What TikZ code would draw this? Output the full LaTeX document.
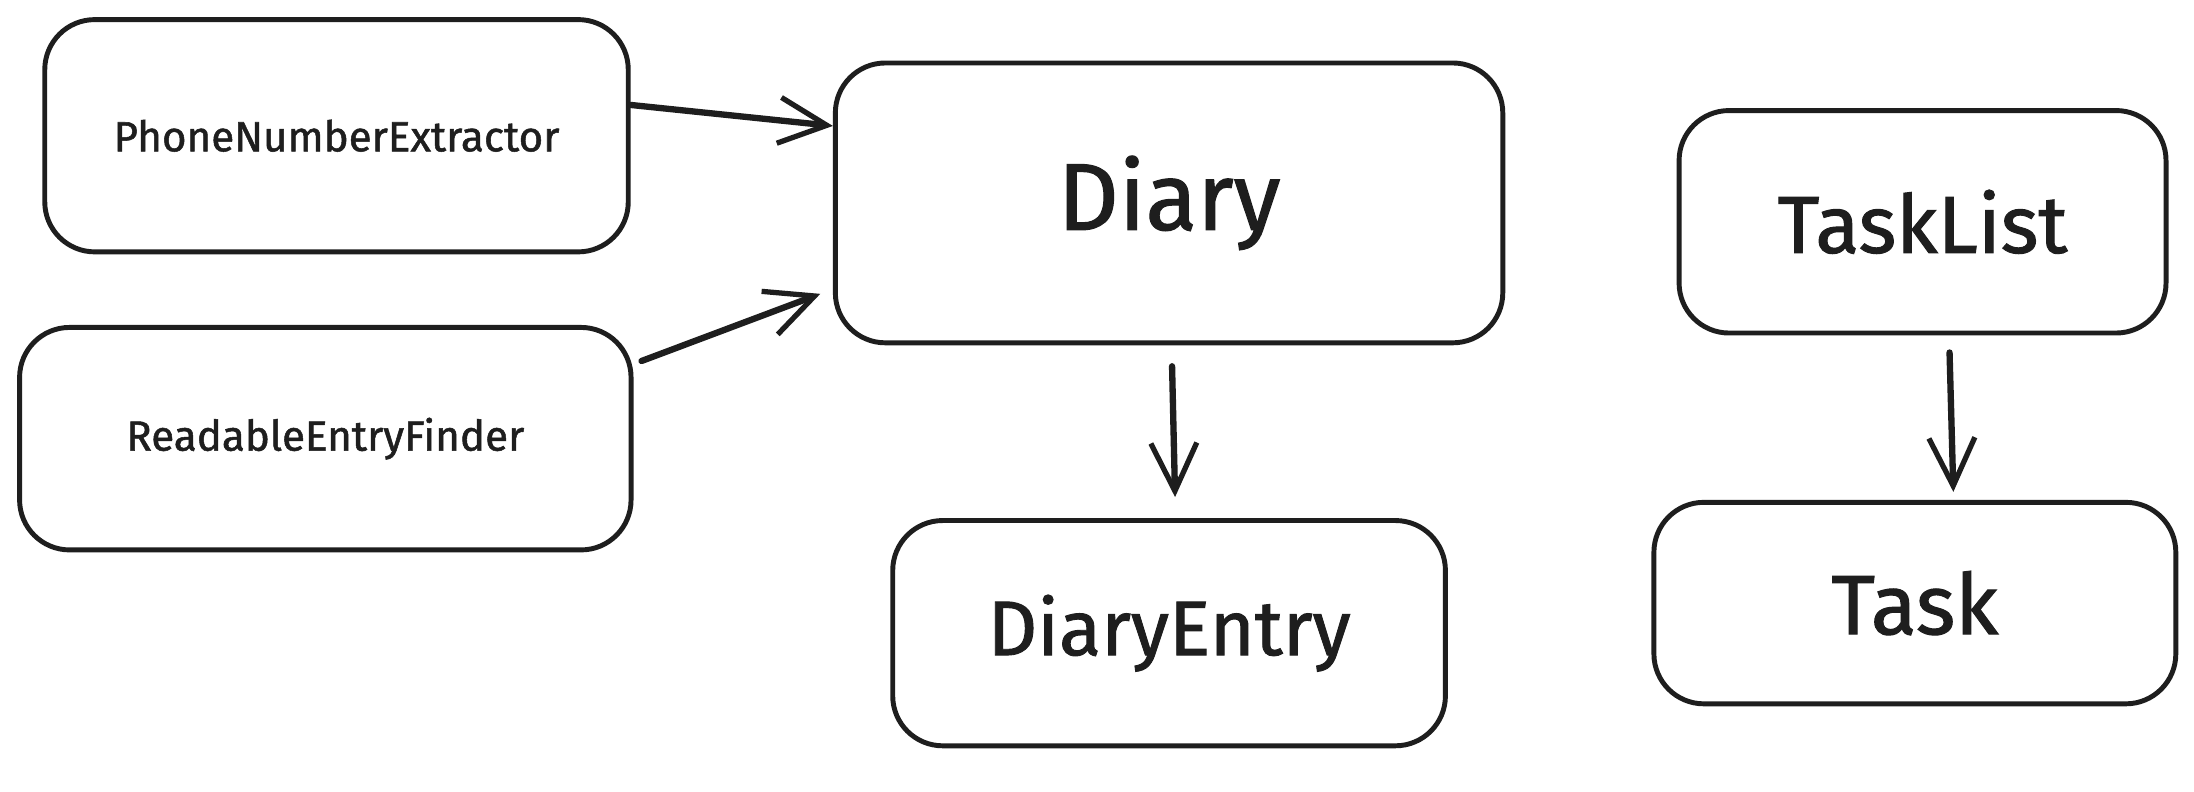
\documentclass[tikz,border=0pt]{standalone}
\usepackage{fontspec}
\setmainfont{Fira Sans}
\newfontfamily\handfont{Fira Sans}[FakeBold=1.2]
\usetikzlibrary{arrows.meta}
\definecolor{ink}{HTML}{1E1E1E}
\tikzset{
	classbox/.style={draw=ink, line width=1.4pt, rounded corners=0.5cm, text=ink, inner sep=0pt},
	link/.style={draw=ink, line width=1.8pt, line cap=round, -{Straight Barb[length=0.48cm, width=0.46cm, line width=1.5pt]}}
}

\begin{document}
\begin{tikzpicture}
		%%%%% START %%%%%
		
		\useasboundingbox[fill=white] (0, 0) rectangle (21.952, -7.924);
		
		\node[classbox, minimum width=5.838cm, minimum height=2.324cm, font=\handfont\fontsize{12}{14}\selectfont] (pne) at (3.367, -1.358) {PhoneNumberExtractor};
		\node[classbox, minimum width=6.118cm, minimum height=2.226cm, font=\handfont\fontsize{12}{14}\selectfont] (ref) at (3.255, -4.389) {ReadableEntryFinder};
		
		\node[classbox, minimum width=6.678cm, minimum height=2.8cm, font=\handfont\fontsize{27}{32}\selectfont] (diary) at (11.697, -2.03) {Diary};
		\node[classbox, minimum width=5.53cm, minimum height=2.254cm, font=\handfont\fontsize{22}{26}\selectfont] (entry) at (11.697, -6.335) {DiaryEntry};
		
		\node[classbox, minimum width=4.872cm, minimum height=2.226cm, font=\handfont\fontsize{23}{27}\selectfont] (tasklist) at (19.236, -2.219) {TaskList};
		\node[classbox, minimum width=5.222cm, minimum height=2.016cm, font=\handfont\fontsize{24}{28}\selectfont] (task) at (19.159, -6.034) {Task};
		
		\draw[link] ([yshift=0.308cm]pne.east) -- ([yshift=0.77cm]diary.west);
		\draw[link] ([xshift=0.08cm, yshift=0.777cm]ref.east) -- ([xshift=-0.126cm, yshift=-0.91cm]diary.west);
		
		\draw[link] ([xshift=0.03cm, yshift=-0.21cm]diary.south) -- ([xshift=0.06cm, yshift=0.21cm]entry.north);
		\draw[link] ([xshift=0.27cm, yshift=-0.17cm]tasklist.south) -- ([xshift=0.385cm, yshift=0.08cm]task.north);
		
		%%%%% END %%%%%
	\end{tikzpicture}
\end{document}
